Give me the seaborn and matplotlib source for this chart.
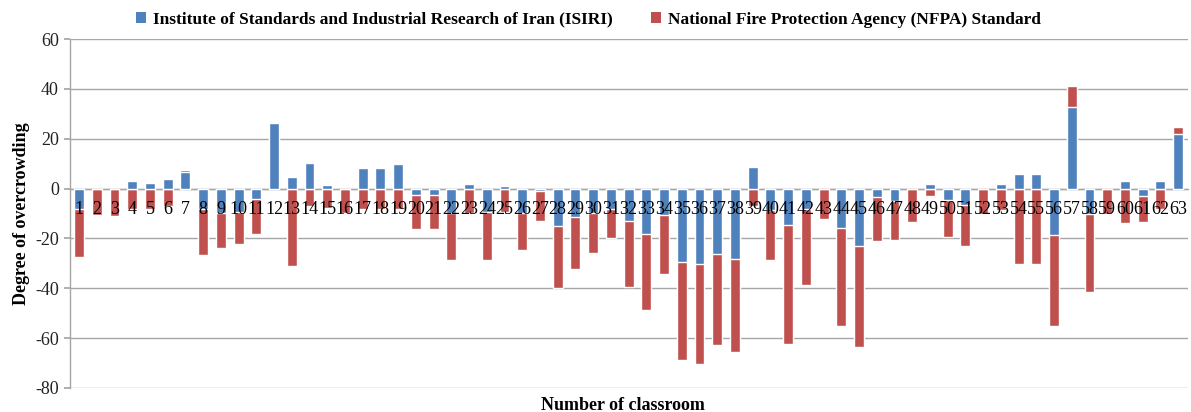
import matplotlib
matplotlib.use("Agg")
import matplotlib.pyplot as plt
import seaborn as sns
import pandas as pd
from matplotlib.patches import Patch

classrooms = [str(i) for i in range(1, 64)]

isiri = [-8.2, 0, 0, 3, 2.2, 4, 6.8, -8, -10, -9.5,
         -4.2, 26.2, 4.5, 10.4, 1.6, 0, 8.1, 8.1, 10, -2.7,
         -2.7, -10, 2, -9.3, 1.2, -10, -1, -15, -11.3, -9.7,
         -8, -13.2, -18.3, -10.5, -29.5, -30.3, -26.4, -28.2, 8.7, -8.5,
         -14.7, -8, 0, -15.7, -23, -3.3, -5, 0, 2, -4.4,
         -6.6, 0, 2, 5.7, 5.7, -18.7, 32.8, -10.4, 0, 3,
         -3, 3, 22]

nfpa = [-27.3, -10.5, -10.9, -8, -8.3, -7, 7.6, -26.6, -24, -22.2,
        -18.4, 26.6, -30.9, -7, -7.7, -9.7, -8.3, -8, -8, -16.3,
        -16.3, -28.6, -9.7, -28.6, -9.5, -24.6, -13, -40, -32.4, -25.9,
        -20, -39.5, -48.9, -34.3, -68.8, -70.5, -62.9, -65.6, -7, -28.6,
        -62.2, -38.7, -12.3, -55.2, -63.6, -21.2, -20.5, -13.3, -3, -19.5,
        -23, -10.4, -8.4, -30.4, -30.4, -55, 41.1, -41.3, -10.1, -13.7,
        -13.3, -8, 24.8]

series_names = ["Institute of Standards and Industrial Research of Iran (ISIRI)",
                "National Fire Protection Agency (NFPA) Standard"]
y_ticks = [60, 40, 20, 0, -20, -40, -60, -80]

BLUE = "#4F81BD"
RED = "#C0504D"
GRID = "#A6A6A6"

sns.set_theme(style="white")
plt.rcParams["font.family"] = ["Liberation Serif", "DejaVu Serif"]
plt.rcParams["axes.unicode_minus"] = False
plt.rcParams["text.color"] = "black"
plt.rcParams["axes.labelcolor"] = "black"
plt.rcParams["xtick.color"] = "black"
plt.rcParams["ytick.color"] = "black"

df = pd.DataFrame({"classroom": classrooms, "isiri": isiri, "nfpa": nfpa})

fig = plt.figure(figsize=(11.91, 4.12), dpi=100)
ax = fig.add_axes([0.0588, 0.0583, 0.9387, 0.847])

sns.barplot(data=df, x="classroom", y="nfpa", color=RED, width=0.56,
            saturation=1, ax=ax, order=classrooms, zorder=2)
sns.barplot(data=df, x="classroom", y="isiri", color=BLUE, width=0.56,
            saturation=1, ax=ax, order=classrooms, zorder=3)

ax.set_ylim(-80, 60)
ax.set_xlim(-0.51, 62.56)
ax.set_yticks(y_ticks)
ax.set_yticklabels([str(v) for v in y_ticks], fontsize=13)
ax.yaxis.grid(True, color=GRID, linewidth=1)
ax.set_axisbelow(True)

for s in ["top", "right"]:
    ax.spines[s].set_visible(False)
ax.spines["left"].set_color(GRID)
ax.spines["left"].set_linewidth(1)
ax.spines["bottom"].set_position(("data", 0))
ax.spines["bottom"].set_color(GRID)
ax.spines["bottom"].set_linewidth(1)
ax.spines["bottom"].set_zorder(1)

ax.tick_params(axis="y", length=4, color=GRID, labelcolor="#222222", left=True, pad=4)
ax.tick_params(axis="x", length=0, pad=9, labelsize=13, labelcolor="black")
ax.xaxis.set_zorder(5)

ax.set_xlabel("Number of classroom", fontsize=13, fontweight="bold", color="black")
ax.xaxis.set_label_coords(0.495, -0.025)
ax.xaxis.label.set_va("top")
ax.set_ylabel("Degree of overcrowding", fontsize=13, fontweight="bold", labelpad=4,
              color="black")

handles = [Patch(facecolor=BLUE, edgecolor="none"), Patch(facecolor=RED, edgecolor="none")]
fig.legend(handles, series_names, loc="upper center", bbox_to_anchor=(0.494, 1.01),
           ncol=2, frameon=False, prop={"weight": "bold", "size": 12.5},
           handlelength=0.6, handleheight=0.6, handletextpad=0.4, columnspacing=2.2,
           labelcolor="black")

fig.savefig("out.png", dpi=100)
